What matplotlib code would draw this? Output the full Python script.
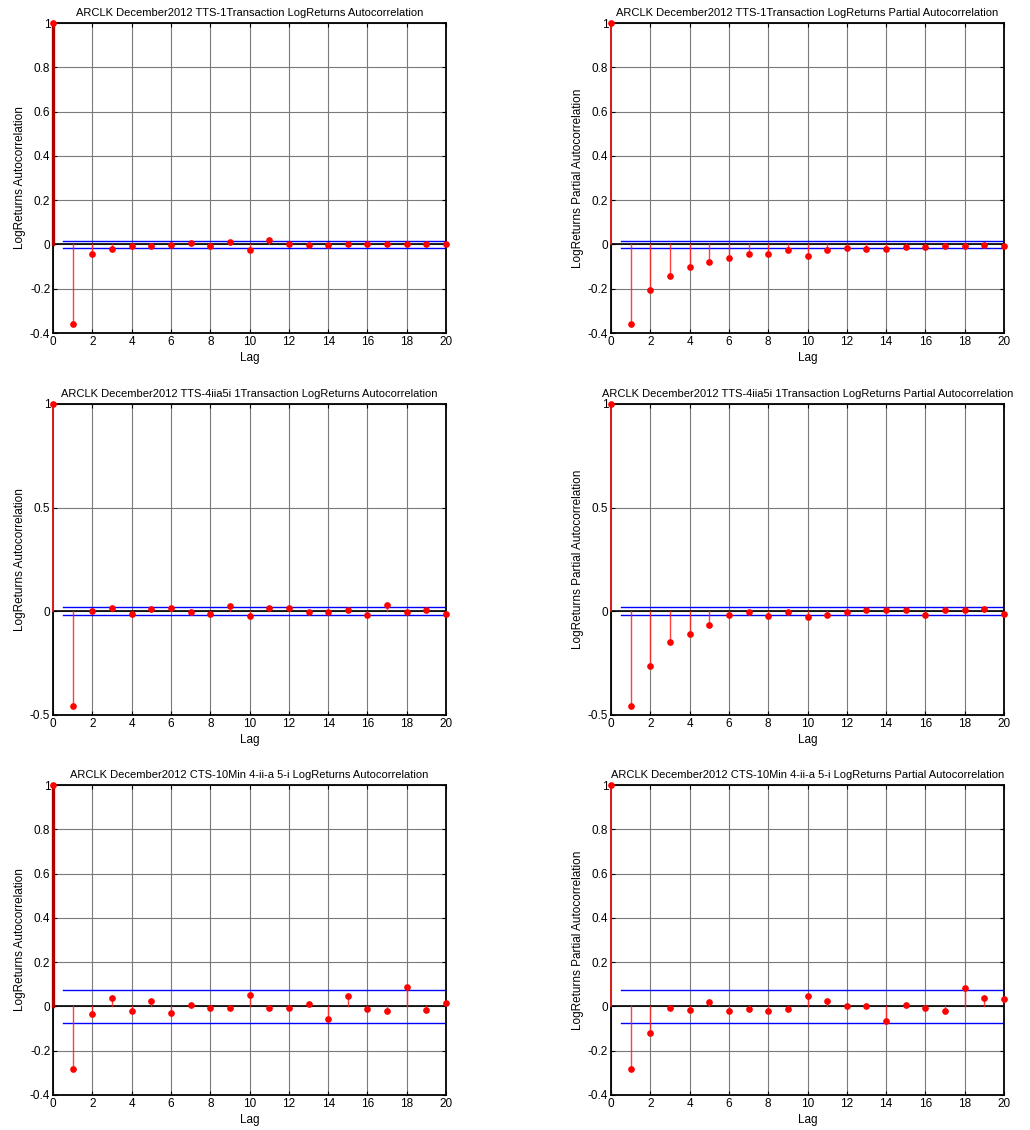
import numpy as np
import matplotlib.pyplot as plt
from matplotlib.ticker import FormatStrFormatter

plt.rcParams['font.family'] = ['Liberation Sans', 'DejaVu Sans']

lags = np.arange(0, 21)

acf_tts1 = [1, -0.359, -0.045, -0.02, -0.009, -0.005, -0.004, 0.005, -0.008, 0.01, -0.024,
            0.018, 0.004, -0.004, -0.004, 0.004, 0.0, 0.0, 0.0, 0.004, 0.0]
pacf_tts1 = [1, -0.359, -0.205, -0.143, -0.103, -0.078, -0.062, -0.041, -0.041, -0.024, -0.05,
             -0.024, -0.017, -0.02, -0.02, -0.012, -0.012, -0.008, -0.008, -0.003, -0.005]
acf_tts4 = [1, -0.455, -0.001, 0.014, -0.011, 0.01, 0.014, -0.005, -0.011, 0.024, -0.021,
            0.014, 0.014, -0.002, -0.002, 0.005, -0.016, 0.029, -0.005, 0.005, -0.011]
pacf_tts4 = [1, -0.455, -0.262, -0.148, -0.108, -0.064, -0.019, -0.005, -0.024, -0.005, -0.029,
             -0.019, -0.005, 0.005, 0.005, 0.005, -0.019, 0.005, 0.005, 0.01, -0.011]
acf_cts = [1, -0.282, -0.033, 0.036, -0.02, 0.024, -0.029, 0.005, -0.009, -0.005, 0.051,
           -0.009, -0.009, 0.009, -0.057, 0.045, -0.012, -0.02, 0.087, -0.017, 0.017]
pacf_cts = [1, -0.282, -0.118, -0.005, -0.017, 0.021, -0.02, -0.012, -0.02, -0.012, 0.047,
            0.026, 0.0, 0.0, -0.065, 0.005, -0.009, -0.02, 0.083, 0.038, 0.033]

bounds = [0.015, 0.015, 0.02, 0.02, 0.074, 0.074]

titles = [
    "ARCLK December2012 TTS-1Transaction LogReturns Autocorrelation",
    "ARCLK December2012 TTS-1Transaction LogReturns Partial Autocorrelation",
    "ARCLK December2012 TTS-4iia5i 1Transaction LogReturns Autocorrelation",
    "ARCLK December2012 TTS-4iia5i 1Transaction LogReturns Partial Autocorrelation",
    "ARCLK December2012 CTS-10Min 4-ii-a 5-i LogReturns Autocorrelation",
    "ARCLK December2012 CTS-10Min 4-ii-a 5-i LogReturns Partial Autocorrelation",
]
ylabels = ["LogReturns Autocorrelation", "LogReturns Partial Autocorrelation"] * 3
series = [acf_tts1, pacf_tts1, acf_tts4, pacf_tts4, acf_cts, pacf_cts]

fig = plt.figure(figsize=(10.3, 11.3), dpi=100)

lefts = [0.0515, 0.5932]
bottoms = [0.7053, 0.3673, 0.031]
heights = [0.2743, 0.2752, 0.2743]

for i, vals in enumerate(series):
    row, col = i // 2, i % 2
    ax = fig.add_axes([lefts[col], bottoms[row], 0.3816, heights[row]])
    vals = np.array(vals)

    # stems (lag 0 drawn over the left spine, dark and thick in some panels)
    for k, v in zip(lags, vals):
        if k == 0 and col == 0 and row != 1:
            ax.plot([k, k], [0, v], color='#b00000', lw=2.4, zorder=5, clip_on=False)
        elif k == 0:
            ax.plot([k, k], [0, v], color='#ff2020', lw=1.2, zorder=5, clip_on=False)
        else:
            ax.plot([k, k], [0, v], color='#ff2020', lw=1, alpha=0.85, zorder=3)
    ax.plot(lags, vals, 'o', color='red', ms=3.8, zorder=6, clip_on=False)

    b = bounds[i]
    ax.plot([0.5, 20], [b, b], color='blue', lw=1, zorder=2)
    ax.plot([0.5, 20], [-b, -b], color='blue', lw=1, zorder=2)
    ax.axhline(0, color='black', lw=1.2, zorder=2)

    ax.set_xlim(0, 20)
    ax.set_xticks(np.arange(0, 21, 2))
    if row == 1:
        ax.set_ylim(-0.5, 1)
        ax.set_yticks([-0.5, 0, 0.5, 1])
    else:
        ax.set_ylim(-0.4, 1)
        ax.set_yticks(np.round(np.arange(-0.4, 1.01, 0.2), 1))
    ax.yaxis.set_major_formatter(FormatStrFormatter('%g'))

    ax.grid(True, color='#7a7a7a', lw=0.8)
    ax.set_axisbelow(True)
    ax.tick_params(direction='in', top=True, right=True, labelsize=8.5, length=3, pad=2)
    for s in ax.spines.values():
        s.set_linewidth(1.3)

    ax.set_title(titles[i], fontsize=8, pad=5)
    ax.set_xlabel("Lag", fontsize=8.5, labelpad=3)
    ax.set_ylabel(ylabels[i], fontsize=8.5, labelpad=3)

fig.savefig("out.png", dpi=100)
